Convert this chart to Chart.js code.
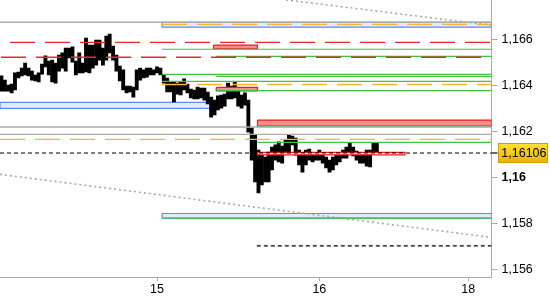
<!DOCTYPE html>
<html><head><meta charset="utf-8">
<script src="https://cdn.jsdelivr.net/npm/chart.js@4.4.1/dist/chart.umd.min.js"></script>
<style>html,body{margin:0;padding:0;background:#fff;}#wrap{width:550px;height:300px;}</style>
</head><body><div id="wrap"><canvas id="c" width="550" height="300"></canvas></div>
<script>
// ---------- DATA ----------
const firstBar = 2; // bar index of first visible candle (30-minute bars)
const barHigh = [
1.16441,1.16423,1.16401,1.16406,1.16454,1.16458,1.16475,1.16497,1.16475,1.16462,
1.16445,1.16454,1.16493,1.16528,1.16506,1.16510,1.16497,1.16532,1.16541,1.16562,
1.16562,1.16567,1.16506,1.16541,1.16497,1.16606,1.16575,1.16575,1.16597,1.16597,
1.16562,1.16614,1.16623,1.16571,1.16532,1.16484,1.16467,1.16397,1.16397,1.16393,
1.16467,1.16475,1.16467,1.16475,1.16475,1.16467,1.16480,1.16475,1.16445,1.16432,
1.16415,1.16415,1.16410,1.16415,1.16428,1.16406,1.16384,1.16380,1.16393,1.16388,
1.16388,1.16371,1.16349,1.16336,1.16354,1.16358,1.16362,1.16410,1.16397,1.16415,
1.16388,1.16358,1.16367,1.16336,1.16214,1.16184,1.16119,1.16097,1.16088,1.16110,
1.16132,1.16141,1.16154,1.16136,1.16162,1.16184,1.16180,1.16171,1.16119,1.16097,
1.16119,1.16123,1.16106,1.16101,1.16119,1.16106,1.16088,1.16075,1.16088,1.16097,
1.16097,1.16119,1.16132,1.16149,1.16132,1.16114,1.16101,1.16106,1.16119,1.16119,
1.16149,1.16149];
const barLow = [
1.16375,1.16375,1.16375,1.16367,1.16380,1.16432,1.16441,1.16445,1.16441,1.16423,
1.16419,1.16415,1.16449,1.16480,1.16445,1.16415,1.16410,1.16462,1.16475,1.16462,
1.16519,1.16501,1.16445,1.16454,1.16454,1.16458,1.16454,1.16475,1.16488,1.16510,
1.16488,1.16510,1.16541,1.16510,1.16462,1.16419,1.16380,1.16367,1.16371,1.16349,
1.16380,1.16423,1.16432,1.16436,1.16445,1.16445,1.16454,1.16445,1.16410,1.16371,
1.16371,1.16328,1.16362,1.16358,1.16380,1.16367,1.16345,1.16341,1.16341,1.16345,
1.16336,1.16319,1.16262,1.16271,1.16293,1.16301,1.16310,1.16341,1.16341,1.16345,
1.16310,1.16301,1.16314,1.16197,1.16075,1.15980,1.15932,1.15967,1.15980,1.15980,
1.16032,1.16075,1.16067,1.16062,1.16110,1.16110,1.16141,1.16097,1.16054,1.16023,
1.16054,1.16075,1.16067,1.16075,1.16075,1.16062,1.16041,1.16023,1.16032,1.16054,
1.16067,1.16084,1.16084,1.16106,1.16093,1.16075,1.16062,1.16062,1.16049,1.16045,
1.16106,1.16110];
const xTickBars = [48, 96, 140];
const xTickLabels = ['15', '16', '18'];
const yTicks = [1.156, 1.158, 1.16, 1.162, 1.164, 1.166];
const currentPrice = 1.16106;
const xRange = [1.57, 146.9];
const yRange = [1.15567, 1.16771];

// levels: [price, fromBar, toBar] (null = chart edge)
const grayLevels = [[1.16674, null, null], [1.16219, null, null], [1.16187, null, null]];
const redDashLevels = [[1.16587, null, null], [1.16522, null, null]];
const orangeLevels = [[1.16665, 49.5, null], [1.16404, 49.5, null], [1.16165, null, null]];
const greenLevels = [[1.16557, 49.5, null], [1.16526, 65.5, null], [1.16448, 49.5, null],
  [1.16439, 65.5, null], [1.16417, 49.5, null], [1.16377, 65.5, null],
  [1.16222, 77.7, null], [1.16152, 77.7, null], [1.15823, 49.5, null]];
const blackDashLevels = [[1.15702, 77.5, null]];
// zones: [top, bottom, fromBar, toBar]
const blueZones = [[1.16674, 1.16653, 49.5, null], [1.15843, 1.15823, 49.5, null]];
const blueBackZones = [[1.16326, 1.16300, null, 65.7]];
const redZones = [[1.16575, 1.16559, 64.7, 77.7], [1.16391, 1.16376, 65.5, 77.7], [1.16249, 1.16223, 77.7, null]];
const redThinZones = [[1.16109, 1.16098, 77.7, 121.3]];
// trend lines: [[bar, price], [bar, price]]
const trendLines = [[[70, 1.16801], [147, 1.16661]], [[1.57, 1.16013], [146.9, 1.15739]]];

// ---------- STYLES ----------
const redDashOffsets = [25, 34];
const FONT = 'Liberation Sans';
Chart.defaults.font.family = FONT;
Chart.defaults.font.size = 12.5;
Chart.defaults.color = '#000';

const X0 = xRange[0], X1 = xRange[1];
function seg(l) { return [{x: l[1] ?? X0, y: l[0]}, {x: l[2] ?? X1, y: l[0]}]; }
function box(z) {
  const a = z[2] ?? X0, b = z[3] ?? X1;
  return [{x: a, y: z[0]}, {x: b, y: z[0]}, {x: b, y: z[1]}, {x: a, y: z[1]}, {x: a, y: z[0]}];
}
function lineDs(data, color, width, dash, offset, order) {
  return {type: 'line', data, borderColor: color, borderWidth: width, borderDash: dash || [],
    borderDashOffset: offset || 0, pointRadius: 0, fill: false, tension: 0, order: order ?? 0};
}
function zoneDs(z, border, bg, width, order) {
  return {type: 'line', data: box(z), borderColor: border, backgroundColor: bg, borderWidth: width,
    pointRadius: 0, fill: 'shape', tension: 0, order: order ?? 1};
}

const datasets = [];
datasets.push({
  type: 'bar',
  data: barHigh.map((h, k) => ({x: firstBar + k, y: [barLow[k], h]})),
  backgroundColor: '#000', borderWidth: 0, barThickness: 3.2, grouped: false, order: 10
});
blueBackZones.forEach(z => datasets.push(zoneDs(z, '#5b8def', '#e3ebfc', 1.2, 20)));
blueZones.forEach(z => datasets.push(zoneDs(z, '#5b8def', '#e3ebfc', 1.2, 2)));
redZones.forEach(z => datasets.push(zoneDs(z, '#ee1c1c', '#ff8c8c', 1.2, 1)));
redThinZones.forEach(z => datasets.push(zoneDs(z, '#ee1c1c', '#fff0f0', 1.3, 1)));
grayLevels.forEach(l => datasets.push(lineDs(seg(l), '#aaaaaa', 1.4)));
redDashLevels.forEach((l, i) => datasets.push(lineDs(seg(l), '#e8282c', 1.4, [25, 10], redDashOffsets[i])));
orangeLevels.forEach(l => datasets.push(lineDs(seg(l), '#f7b52c', 1.4, [25, 10], 0)));
greenLevels.forEach(l => datasets.push(lineDs(seg(l), '#3fc23f', 1.2)));
blackDashLevels.forEach(l => datasets.push(lineDs(seg(l), '#000', 1.2, [4, 3], 0)));
datasets.push(lineDs(seg([currentPrice, null, null]), '#000', 1.2, [4, 3], 0, -1));
trendLines.forEach(t => datasets.push(lineDs(t.map(p => ({x: p[0], y: p[1]})), '#a8a8a8', 1.6, [2, 3], 0)));

const priceTag = {
  id: 'priceTag',
  afterDraw(chart) {
    const ctx = chart.ctx, ys = chart.scales.y, area = chart.chartArea;
    const y = ys.getPixelForValue(currentPrice);
    ctx.save();
    ctx.strokeStyle = '#000'; ctx.lineWidth = 1.2;
    ctx.beginPath(); ctx.moveTo(area.right, y); ctx.lineTo(area.right + 6, y); ctx.stroke();
    const bx = area.right + 6.5, bw = 50, bh = 20, by = y - 10;
    const g = ctx.createLinearGradient(0, by, 0, by + bh);
    g.addColorStop(0, '#ffe23a'); g.addColorStop(1, '#eab000');
    ctx.fillStyle = g; ctx.fillRect(bx, by, bw, bh);
    ctx.strokeStyle = '#d29e00'; ctx.lineWidth = 1; ctx.strokeRect(bx + 0.5, by + 0.5, bw - 1, bh - 1);
    ctx.fillStyle = '#000'; ctx.font = '12.5px ' + FONT; ctx.textBaseline = 'middle'; ctx.textAlign = 'left';
    ctx.fillText(String(currentPrice).replace('.', ','), bx + 3.3, y + 0.5);
    ctx.restore();
  }
};

new Chart(document.getElementById('c'), {
  type: 'bar',
  data: {datasets},
  options: {
    responsive: false, animation: false, devicePixelRatio: 1, events: [],
    layout: {padding: 0},
    plugins: {legend: {display: false}, tooltip: {enabled: false}},
    scales: {
      x: {
        type: 'linear', min: xRange[0], max: xRange[1], offset: false,
        afterBuildTicks: s => { s.ticks = xTickBars.map(v => ({value: v})); },
        afterFit: s => { s.height = 23; s.paddingLeft = 0; s.paddingRight = 0; },
        grid: {drawOnChartArea: false, offset: false, tickLength: 4, color: '#aaaaaa'},
        border: {color: '#aaaaaa', width: 1},
        ticks: {autoSkip: false, maxRotation: 0, padding: 1,
          callback: (v, i) => xTickLabels[i]}
      },
      y: {
        type: 'linear', position: 'right', min: yRange[0], max: yRange[1],
        afterBuildTicks: s => { s.ticks = yTicks.map(v => ({value: v})); },
        afterFit: s => { s.width = 58.5; s.paddingTop = 0; s.paddingBottom = 0; },
        grid: {drawOnChartArea: false, tickLength: 6, color: '#aaaaaa'},
        border: {color: '#aaaaaa', width: 1},
        ticks: {padding: 4,
          font: ctx => ({family: FONT, size: 12.5, weight: (ctx.tick && ctx.tick.value === 1.16) ? 'bold' : 'normal'}),
          callback: v => String(v).replace('.', ',')}
      }
    }
  },
  plugins: [priceTag]
});
</script>
</body></html>
